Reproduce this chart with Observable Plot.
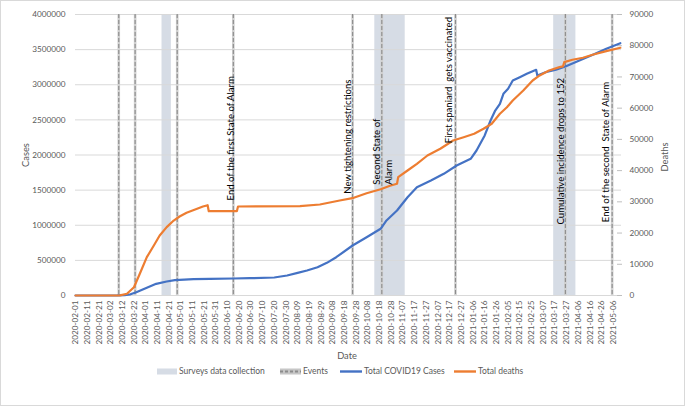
<!DOCTYPE html>
<html><head><meta charset="utf-8">
<script src="https://cdn.jsdelivr.net/npm/d3@7"></script>
<script src="https://cdn.jsdelivr.net/npm/@observablehq/plot@0.6"></script>
<style>
body{margin:0;background:#fff;font-family:Lato,sans-serif;}
#wrap{position:relative;width:685px;height:406px;overflow:hidden;background:#fff}
#frame{position:absolute;left:0;top:0;width:685px;height:406px;box-sizing:border-box;border:1px solid #d9d9d9;pointer-events:none}
#legend{position:absolute;left:0;top:364px;width:685px;height:14px;font-size:8.5px;color:#595959}
.item{position:absolute;top:0;display:flex;align-items:center;height:14px;white-space:nowrap;gap:2px}
.item svg{display:block}
</style></head><body>
<div id="wrap"><div id="chart"></div><div id="legend"></div><div id="frame"></div></div>
<script>
// ---- data ----
const caseDates = ["2020-02-01","2020-03-01","2020-03-08","2020-03-14","2020-03-19","2020-03-24","2020-04-02","2020-04-10","2020-04-19","2020-04-26","2020-05-12","2020-05-26","2020-06-15","2020-06-29","2020-07-20","2020-07-31","2020-08-09","2020-08-17","2020-08-26","2020-09-03","2020-09-11","2020-09-25","2020-10-07","2020-10-19","2020-10-24","2020-11-02","2020-11-11","2020-11-19","2020-12-01","2020-12-12","2020-12-23","2021-01-04","2021-01-09","2021-01-16","2021-01-21","2021-01-25","2021-01-29","2021-02-01","2021-02-05","2021-02-09","2021-02-15","2021-02-21","2021-02-26","2021-03-01","2021-03-02","2021-03-09","2021-03-18","2021-03-26","2021-04-07","2021-04-19","2021-04-30","2021-05-12"];
const caseValues = [0,100,600,6000,17000,47000,110000,166000,199000,218000,232000,237500,242000,246000,256000,285000,323000,356000,403000,465000,545000,712000,830000,950000,1068000,1210000,1399000,1542000,1637000,1732000,1850000,1946000,2064000,2278000,2491000,2633000,2729000,2871000,2942000,3060000,3107000,3156000,3193000,3213000,3132000,3178000,3213000,3260000,3345000,3430000,3512000,3591000];

const deathDates = ["2020-02-01","2020-03-03","2020-03-10","2020-03-16","2020-03-22","2020-03-27","2020-04-02","2020-04-08","2020-04-13","2020-04-19","2020-04-25","2020-04-30","2020-05-06","2020-05-15","2020-05-20","2020-05-24","2020-05-25","2020-06-18","2020-06-19","2020-08-11","2020-08-28","2020-09-14","2020-09-26","2020-10-07","2020-10-19","2020-10-27","2020-11-02","2020-11-03","2020-11-11","2020-11-19","2020-11-28","2020-12-09","2020-12-20","2020-12-29","2021-01-07","2021-01-15","2021-01-22","2021-01-29","2021-02-04","2021-02-09","2021-02-18","2021-02-26","2021-03-04","2021-03-12","2021-03-21","2021-03-24","2021-03-25","2021-04-01","2021-04-10","2021-04-19","2021-04-30","2021-05-12"];
const deathValues = [0,0,50,545,2660,6950,12270,16000,19200,21900,24000,25300,26500,27770,28500,28920,27000,27000,28500,28600,29150,30430,31290,32770,34050,35140,35780,37900,40040,42180,44840,46990,49650,50700,51790,53390,55000,58200,60310,62460,65660,68860,70470,72070,73130,73400,74730,75500,76140,77200,78250,79340];

const eventDates = ["2020-03-09","2020-03-23","2020-04-28","2020-06-15","2020-09-25","2020-10-20","2020-12-22","2021-03-26","2021-05-05"];

const surveyStarts = ["2020-04-15","2020-10-14","2021-03-16"];
const surveyEnds   = ["2020-04-23","2020-11-09","2021-04-04"];

const annotationTexts = ["End of the first State of Alarm","New tightening restrictions","Second State of\nAlarm","First spaniard  gets vaccinated","Cumulative incidence drops to 152","End of the second  State of Alarm"];
const annotationEvent = [3,4,5,6,7,8];
const annotationLevel = [1352000,1448000,1576000,2168000,1011000,1043000];
const annotationShift = [-3.5,-5.5,0,-7,-5.5,-7];

const xTickLabels = ["2020-02-01","2020-02-11","2020-02-21","2020-03-02","2020-03-12","2020-03-22","2020-04-01","2020-04-11","2020-04-21","2020-05-01","2020-05-11","2020-05-21","2020-05-31","2020-06-10","2020-06-20","2020-06-30","2020-07-10","2020-07-20","2020-07-30","2020-08-09","2020-08-19","2020-08-29","2020-09-08","2020-09-18","2020-09-28","2020-10-08","2020-10-18","2020-10-28","2020-11-07","2020-11-17","2020-11-27","2020-12-07","2020-12-17","2020-12-27","2021-01-06","2021-01-16","2021-01-26","2021-02-05","2021-02-15","2021-02-25","2021-03-07","2021-03-17","2021-03-27","2021-04-06","2021-04-16","2021-04-26","2021-05-06"];
const leftTicks = [0,500000,1000000,1500000,2000000,2500000,3000000,3500000,4000000];
const rightTicks = [0,10000,20000,30000,40000,50000,60000,70000,80000,90000];

// ---- build ----
const parse = d3.utcParse("%Y-%m-%d");
const fmt = d3.utcFormat("%Y-%m-%d");
const K = 4000000 / 90000;
const cases = caseDates.map((d, i) => ({date: parse(d), v: caseValues[i]}));
const deaths = deathDates.map((d, i) => ({date: parse(d), v: deathValues[i]}));
const events = eventDates.map(parse);
const surveys = surveyStarts.map((s, i) => ({x1: parse(s), x2: parse(surveyEnds[i])}));
const annots = annotationTexts.map((t, i) => ({text: t, date: events[annotationEvent[i]], y: annotationLevel[i], shift: annotationShift[i]}));

const BLUE = "#4472c4", ORANGE = "#ed7d31", GRAY = "#595959";

const chart = Plot.plot({
  width: 685, height: 362,
  marginLeft: 75, marginRight: 64, marginTop: 14, marginBottom: 67,
  style: {fontFamily: "Lato, sans-serif", fontSize: "8.2px", color: GRAY, background: "transparent", overflow: "visible"},
  x: {type: "utc", domain: [parse("2020-02-01"), parse("2021-05-13")]},
  y: {domain: [0, 4000000]},
  marks: [
    Plot.rect(surveys, {x1: "x1", x2: "x2", fill: "#d6dce5"}),
    Plot.gridY(leftTicks, {stroke: "#d9d9d9", strokeOpacity: 1, strokeWidth: 1}),
    Plot.axisY(leftTicks, {anchor: "left", tickSize: 0, tickPadding: 10, tickFormat: d => String(d), label: null, fill: GRAY}),
    Plot.axisY(rightTicks.map(v => v * K), {anchor: "right", tickSize: 5, dx: -5, tickPadding: 8, tickFormat: v => String(Math.round(v / K)), label: null, fill: GRAY, stroke: "#bfbfbf"}),
    Plot.axisX(xTickLabels.map(parse), {tickSize: 0, tickPadding: 5, tickRotate: -90, tickFormat: fmt, label: null, fill: GRAY}),
    Plot.ruleX(events, {stroke: "#cfcfcf", strokeWidth: 2.6}),
    Plot.ruleX(events, {stroke: "#8c8c8c", strokeWidth: 1.1, strokeDasharray: "4,2"}),
    Plot.line(cases, {x: "date", y: "v", stroke: BLUE, strokeWidth: 2.2}),
    Plot.line(deaths, {x: "date", y: d => d.v * K, stroke: ORANGE, strokeWidth: 2.2}),
    ...annots.map(a => Plot.text([a], {x: "date", y: "y", text: "text", dx: a.shift, rotate: -90, textAnchor: "start", fill: "#000", fontSize: 9.6, lineHeight: 1.27})),
    Plot.text(["Cases"], {frameAnchor: "left", rotate: -90, textAnchor: "middle", dx: -49, fill: GRAY, fontSize: 9.3}),
    Plot.text(["Deaths"], {frameAnchor: "right", rotate: -90, textAnchor: "middle", dx: 44, dy: 2, fill: GRAY, fontSize: 9.3}),
    Plot.text(["Date"], {frameAnchor: "bottom", dx: -1.5, dy: 63, fill: GRAY, fontSize: 9.3})
  ]
});
document.getElementById("chart").appendChild(chart);

// ---- legend ----
const legendItems = [
  {label: "Surveys data collection", left: 157, sw: `<svg width="20" height="7"><rect x="0" y="0.5" width="20" height="6" fill="#d6dce5"/></svg>`},
  {label: "Events", left: 280, sw: `<svg width="21" height="7"><rect x="0" y="0.5" width="21" height="6" fill="#c6c6c6"/><line x1="0" x2="21" y1="3.5" y2="3.5" stroke="#8c8c8c" stroke-width="2" stroke-dasharray="3,2"/></svg>`},
  {label: "Total COVID19 Cases", left: 340, sw: `<svg width="22" height="7"><line x1="0" x2="22" y1="3.5" y2="3.5" stroke="${BLUE}" stroke-width="2.4"/></svg>`},
  {label: "Total deaths", left: 454, sw: `<svg width="22" height="7"><line x1="0" x2="22" y1="3.5" y2="3.5" stroke="${ORANGE}" stroke-width="2.4"/></svg>`}
];
const leg = document.getElementById("legend");
for (const it of legendItems) {
  const div = document.createElement("div");
  div.className = "item";
  div.style.left = it.left + "px";
  div.innerHTML = it.sw + `<span>${it.label}</span>`;
  leg.appendChild(div);
}
</script>
</body></html>
